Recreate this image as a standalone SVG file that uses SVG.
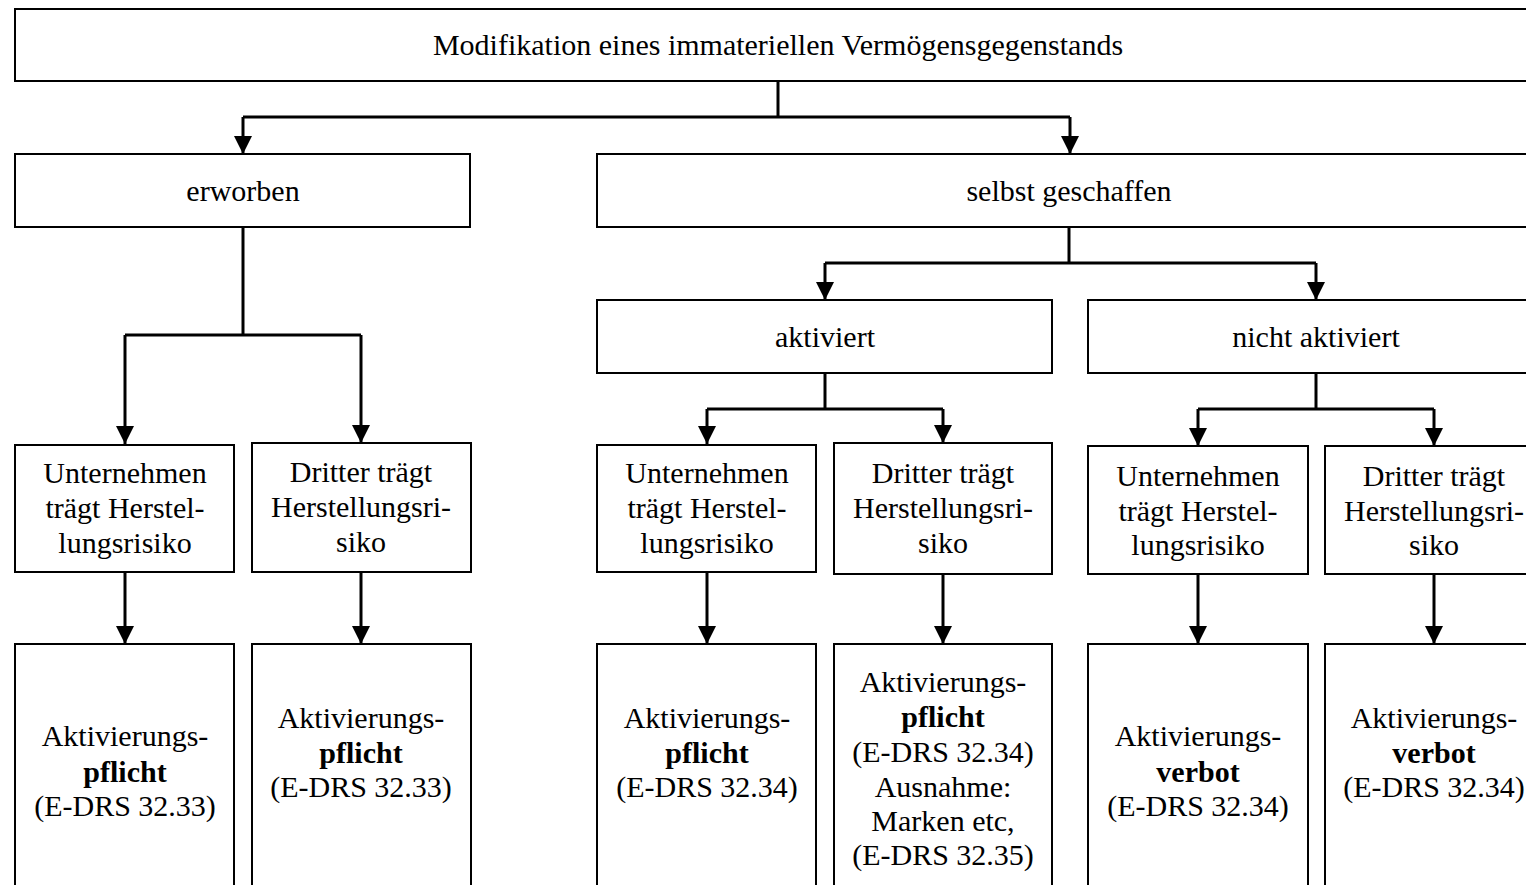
<svg xmlns="http://www.w3.org/2000/svg" width="1526" height="885" viewBox="0 0 1526 885">
<style>
  .box { fill: #fff; stroke: #000; stroke-width: 2; }
  .t { font-family: "Liberation Serif", "Times New Roman", serif; font-size: 30px; fill: #000; text-anchor: middle; }
  .b { font-weight: bold; }
  .c { fill: none; stroke: #000; stroke-width: 3; }
</style>
<defs>
  <marker id="ah" markerUnits="userSpaceOnUse" markerWidth="18" markerHeight="18" viewBox="0 0 18 18" refX="18" refY="9" orient="auto">
    <path d="M0,0 L18,9 L0,18 z" fill="#000"/>
  </marker>
</defs>
<rect width="1526" height="885" fill="#fff"/>

<g id="connectors">
  <path class="c" d="M778,81 V117"/>
  <path class="c" d="M243,117 H1070"/>
  <path class="c" d="M243,117 V154" marker-end="url(#ah)"/>
  <path class="c" d="M1070,117 V154" marker-end="url(#ah)"/>

  <path class="c" d="M243,227 V335"/>
  <path class="c" d="M125,335 H361"/>
  <path class="c" d="M125,335 V444" marker-end="url(#ah)"/>
  <path class="c" d="M361,335 V443" marker-end="url(#ah)"/>

  <path class="c" d="M1069,227 V263"/>
  <path class="c" d="M825,263 H1316"/>
  <path class="c" d="M825,263 V300" marker-end="url(#ah)"/>
  <path class="c" d="M1316,263 V300" marker-end="url(#ah)"/>

  <path class="c" d="M825,373 V409"/>
  <path class="c" d="M707,409 H943"/>
  <path class="c" d="M707,409 V444" marker-end="url(#ah)"/>
  <path class="c" d="M943,409 V443" marker-end="url(#ah)"/>

  <path class="c" d="M1316,373 V409"/>
  <path class="c" d="M1198,409 H1434"/>
  <path class="c" d="M1198,409 V446" marker-end="url(#ah)"/>
  <path class="c" d="M1434,409 V446" marker-end="url(#ah)"/>

  <path class="c" d="M125,572 V644" marker-end="url(#ah)"/>
  <path class="c" d="M361,572 V644" marker-end="url(#ah)"/>
  <path class="c" d="M707,572 V644" marker-end="url(#ah)"/>
  <path class="c" d="M943,574 V644" marker-end="url(#ah)"/>
  <path class="c" d="M1198,574 V644" marker-end="url(#ah)"/>
  <path class="c" d="M1434,574 V644" marker-end="url(#ah)"/>
</g>

<g id="n-top">
  <rect class="box" x="15" y="9" width="1528" height="72"/>
  <text class="t" x="778" y="55">Modifikation eines immateriellen Vermögensgegenstands</text>
</g>

<g id="n-erworben">
  <rect class="box" x="15" y="154" width="455" height="73"/>
  <text class="t" x="243" y="201">erworben</text>
</g>

<g id="n-selbst">
  <rect class="box" x="597" y="154" width="946" height="73"/>
  <text class="t" x="1069" y="201">selbst geschaffen</text>
</g>

<g id="n-aktiviert">
  <rect class="box" x="597" y="300" width="455" height="73"/>
  <text class="t" x="825" y="347">aktiviert</text>
</g>

<g id="n-nicht-aktiviert">
  <rect class="box" x="1088" y="300" width="455" height="73"/>
  <text class="t" x="1316" y="347">nicht aktiviert</text>
</g>

<g id="n-e-unternehmen">
  <rect class="box" x="15" y="445" width="219" height="127"/>
  <text class="t" x="125" y="483">Unternehmen</text>
  <text class="t" x="125" y="518">trägt Herstel-</text>
  <text class="t" x="125" y="553">lungsrisiko</text>
</g>

<g id="n-e-dritter">
  <rect class="box" x="252" y="443" width="219" height="129"/>
  <text class="t" x="361" y="482">Dritter trägt</text>
  <text class="t" x="361" y="517">Herstellungsri-</text>
  <text class="t" x="361" y="552">siko</text>
</g>

<g id="n-a-unternehmen">
  <rect class="box" x="597" y="445" width="219" height="127"/>
  <text class="t" x="707" y="483">Unternehmen</text>
  <text class="t" x="707" y="518">trägt Herstel-</text>
  <text class="t" x="707" y="553">lungsrisiko</text>
</g>

<g id="n-a-dritter">
  <rect class="box" x="834" y="443" width="218" height="131"/>
  <text class="t" x="943" y="483">Dritter trägt</text>
  <text class="t" x="943" y="518">Herstellungsri-</text>
  <text class="t" x="943" y="553">siko</text>
</g>

<g id="n-n-unternehmen">
  <rect class="box" x="1088" y="446" width="220" height="128"/>
  <text class="t" x="1198" y="486">Unternehmen</text>
  <text class="t" x="1198" y="521">trägt Herstel-</text>
  <text class="t" x="1198" y="555">lungsrisiko</text>
</g>

<g id="n-n-dritter">
  <rect class="box" x="1325" y="446" width="218" height="128"/>
  <text class="t" x="1434" y="486">Dritter trägt</text>
  <text class="t" x="1434" y="521">Herstellungsri-</text>
  <text class="t" x="1434" y="555">siko</text>
</g>

<g id="r-e-unternehmen">
  <rect class="box" x="15" y="644" width="219" height="260"/>
  <text class="t" x="125" y="746">Aktivierungs-</text>
  <text class="t b" x="125" y="782">pflicht</text>
  <text class="t" x="125" y="816">(E-DRS 32.33)</text>
</g>

<g id="r-e-dritter">
  <rect class="box" x="252" y="644" width="219" height="260"/>
  <text class="t" x="361" y="728">Aktivierungs-</text>
  <text class="t b" x="361" y="763">pflicht</text>
  <text class="t" x="361" y="797">(E-DRS 32.33)</text>
</g>

<g id="r-a-unternehmen">
  <rect class="box" x="597" y="644" width="219" height="260"/>
  <text class="t" x="707" y="728">Aktivierungs-</text>
  <text class="t b" x="707" y="763">pflicht</text>
  <text class="t" x="707" y="797">(E-DRS 32.34)</text>
</g>

<g id="r-a-dritter">
  <rect class="box" x="834" y="644" width="218" height="260"/>
  <text class="t" x="943" y="692">Aktivierungs-</text>
  <text class="t b" x="943" y="727">pflicht</text>
  <text class="t" x="943" y="762">(E-DRS 32.34)</text>
  <text class="t" x="943" y="797">Ausnahme:</text>
  <text class="t" x="943" y="831">Marken etc,</text>
  <text class="t" x="943" y="865">(E-DRS 32.35)</text>
</g>

<g id="r-n-unternehmen">
  <rect class="box" x="1088" y="644" width="220" height="260"/>
  <text class="t" x="1198" y="746">Aktivierungs-</text>
  <text class="t b" x="1198" y="782">verbot</text>
  <text class="t" x="1198" y="816">(E-DRS 32.34)</text>
</g>

<g id="r-n-dritter">
  <rect class="box" x="1325" y="644" width="218" height="260"/>
  <text class="t" x="1434" y="728">Aktivierungs-</text>
  <text class="t b" x="1434" y="763">verbot</text>
  <text class="t" x="1434" y="797">(E-DRS 32.34)</text>
</g>
</svg>
